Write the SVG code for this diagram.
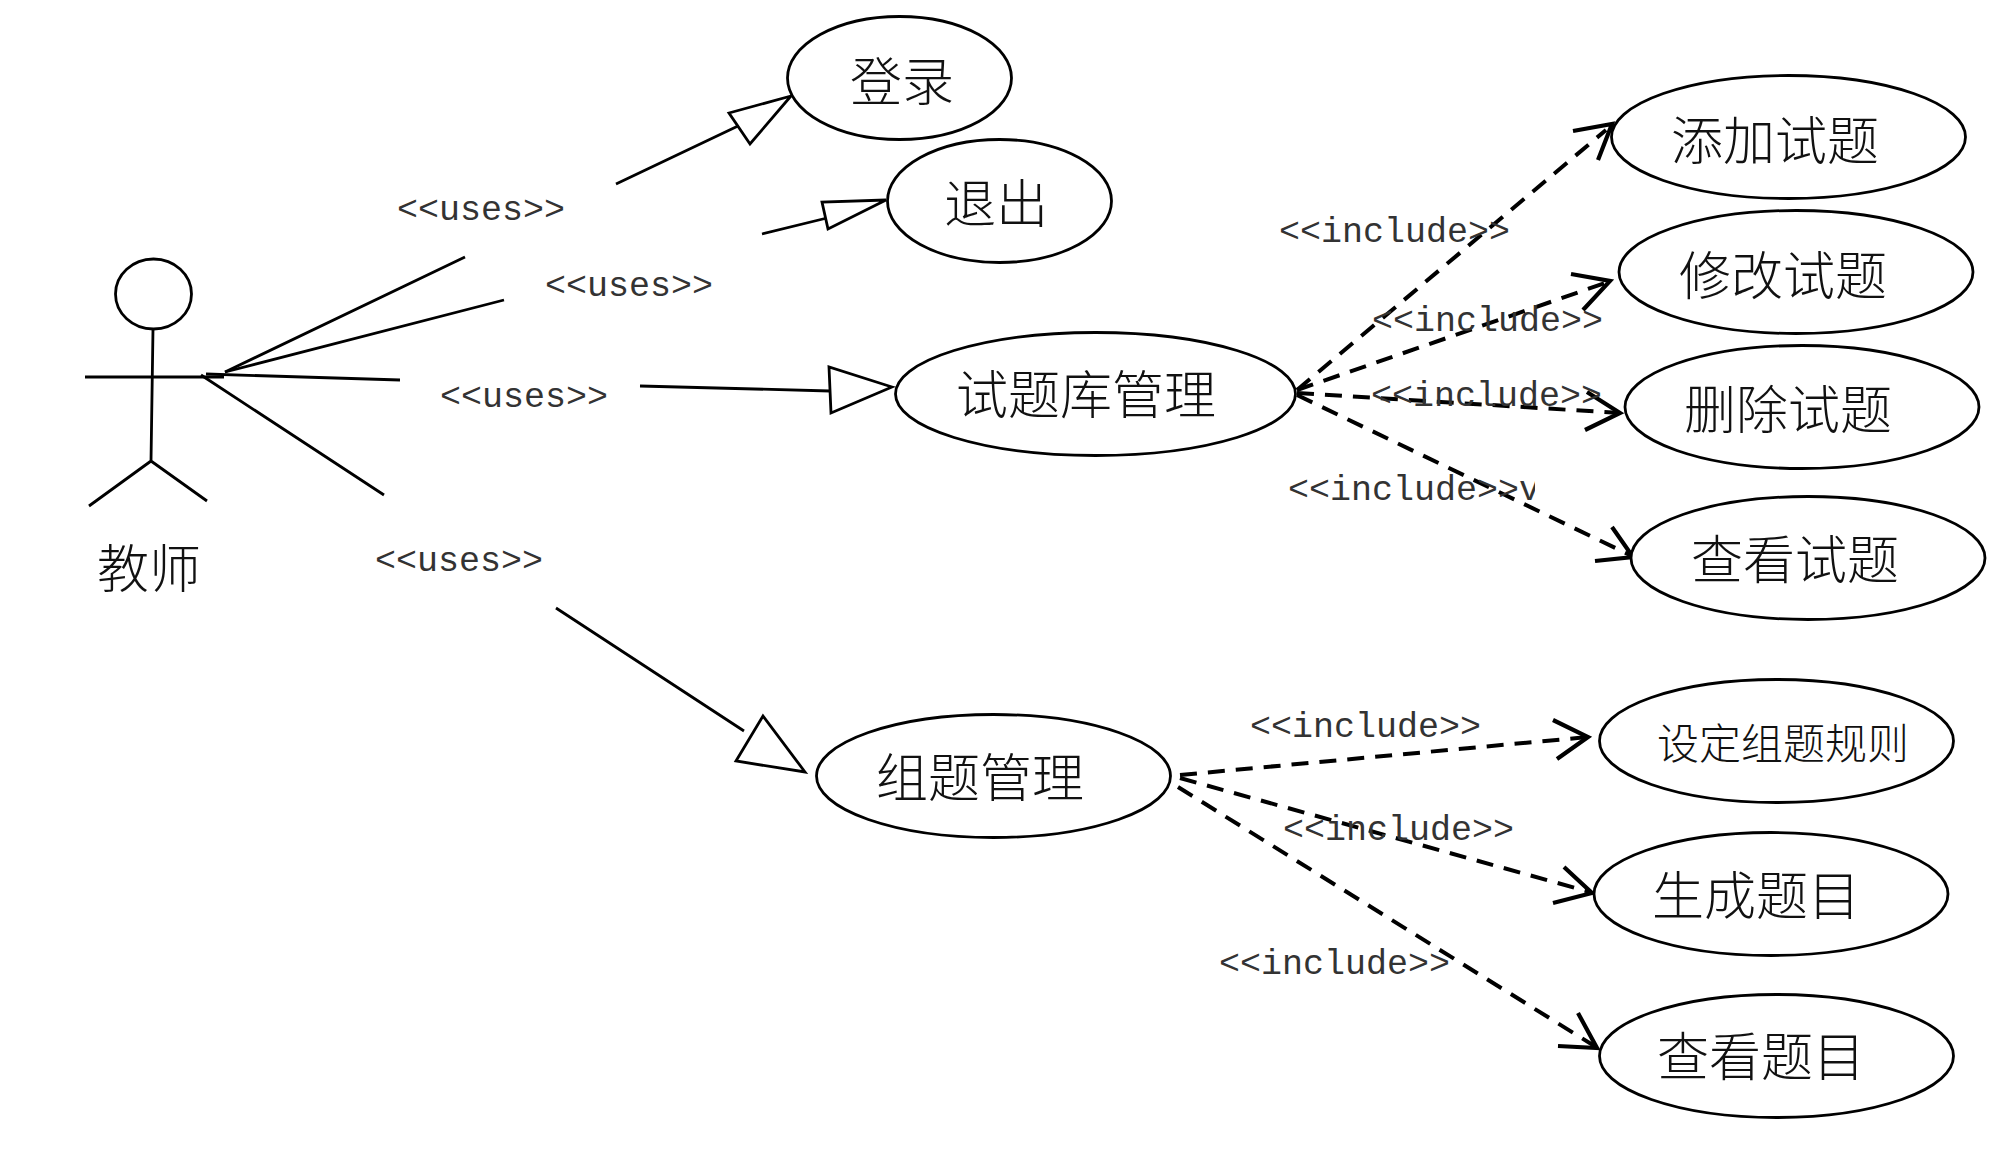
<svg xmlns="http://www.w3.org/2000/svg" width="2000" height="1155" viewBox="0 0 2000 1155">
<style>
.bg{fill:#fff}
.shape{fill:#fff;stroke:#000;stroke-width:2.8}
.actor{fill:none;stroke:#000;stroke-width:2.8}
.solid{fill:none;stroke:#000;stroke-width:2.8}
.dash{fill:none;stroke:#000;stroke-width:4;stroke-dasharray:17 11}
.barb{fill:none;stroke:#000;stroke-width:4.2}
.tri{fill:#fff;stroke:#000;stroke-width:2.8}
.cjk{font-family:"Noto Sans CJK SC","Noto Sans CJK JP",sans-serif;font-size:52px;font-weight:300;text-anchor:middle;fill:#111}
.small{font-size:42px}
.lab{font-family:"Liberation Mono",monospace;font-size:35px;fill:#333}
</style>
<defs>
<clipPath id="clipv"><rect x="1280" y="460" width="255" height="60"/></clipPath>
</defs>
<rect class="bg" width="2000" height="1155"/>
<g id="connectors">
<path class="solid" d="M225 372L465 257M616 184L738 126"/>
<polygon class="tri" points="791,96 729,113 750,144"/>
<path class="solid" d="M225 372L504 300M762 234L827 218"/>
<polygon class="tri" points="886,200 822,202 828,229"/>
<path class="solid" d="M206 374L400 380M640 386L830 391"/>
<polygon class="tri" points="892,387 829,367 831,413"/>
<path class="solid" d="M201 375L384 495M556 608L744 731"/>
<polygon class="tri" points="805,772 763,716 736,761"/>
<path class="dash" d="M1297 390L1606 130"/>
<path class="barb" d="M1573 131L1612 124L1598 160"/>
<path class="dash" d="M1297 390L1608 282"/>
<path class="barb" d="M1571 274L1610 281L1583 310"/>
<path class="dash" d="M1297 393L1620 413"/>
<path class="barb" d="M1587 392L1620 413L1585 430"/>
<path class="dash" d="M1297 395L1632 556"/>
<path class="barb" d="M1612 527L1633 557L1595 561"/>
<path class="dash" d="M1180 775L1588 737"/>
<path class="barb" d="M1553 720L1588 737L1557 759"/>
<path class="dash" d="M1180 778L1590 892"/>
<path class="barb" d="M1564 867L1592 893L1553 903"/>
<path class="dash" d="M1178 787L1596 1047"/>
<path class="barb" d="M1578 1013L1597 1048L1558 1046"/>
<text class="lab" x="397" y="220">&lt;&lt;uses&gt;&gt;</text>
<text class="lab" x="545" y="296">&lt;&lt;uses&gt;&gt;</text>
<text class="lab" x="440" y="407">&lt;&lt;uses&gt;&gt;</text>
<text class="lab" x="375" y="571">&lt;&lt;uses&gt;&gt;</text>
<text class="lab" x="1279" y="242">&lt;&lt;include&gt;&gt;</text>
<text class="lab" x="1372" y="331">&lt;&lt;include&gt;&gt;</text>
<text class="lab" x="1371" y="406">&lt;&lt;include&gt;&gt;</text>
<text class="lab" x="1288" y="500" clip-path="url(#clipv)">&lt;&lt;include&gt;&gt;v</text>
<text class="lab" x="1250" y="737">&lt;&lt;include&gt;&gt;</text>
<text class="lab" x="1283" y="840">&lt;&lt;include&gt;&gt;</text>
<text class="lab" x="1219" y="974">&lt;&lt;include&gt;&gt;</text>
</g>
<g id="actor-teacher">
<ellipse class="actor" cx="153.500" cy="294" rx="38" ry="35"/>
<path class="actor" d="M153 329L151 461M85 377H224M151 461L89 506M151 461L207 501"/>
<text class="cjk" x="149" y="588">教师</text>
</g>
<g id="uc-login"><ellipse class="shape" cx="899.500" cy="78" rx="112" ry="61.500"/><text class="cjk" x="902" y="101">登录</text></g>
<g id="uc-logout"><ellipse class="shape" cx="999.500" cy="201" rx="112" ry="61.500"/><text class="cjk" x="996" y="223">退出</text></g>
<g id="uc-bank"><ellipse class="shape" cx="1095.500" cy="394" rx="200" ry="61.500"/><text class="cjk" x="1086" y="414">试题库管理</text></g>
<g id="uc-add"><ellipse class="shape" cx="1788.500" cy="137" rx="177" ry="61.500"/><text class="cjk" x="1775" y="160">添加试题</text></g>
<g id="uc-edit"><ellipse class="shape" cx="1796" cy="272" rx="177" ry="61.500"/><text class="cjk" x="1783" y="295">修改试题</text></g>
<g id="uc-delete"><ellipse class="shape" cx="1802" cy="407" rx="177" ry="61.500"/><text class="cjk" x="1788" y="429">删除试题</text></g>
<g id="uc-view"><ellipse class="shape" cx="1808" cy="558" rx="177" ry="61.500"/><text class="cjk" x="1795" y="579">查看试题</text></g>
<g id="uc-compose"><ellipse class="shape" cx="993.500" cy="776" rx="177" ry="61.500"/><text class="cjk" x="980" y="797">组题管理</text></g>
<g id="uc-rule"><ellipse class="shape" cx="1776.500" cy="741" rx="177" ry="61.500"/><text class="cjk small" x="1783" y="759">设定组题规则</text></g>
<g id="uc-generate"><ellipse class="shape" cx="1771" cy="894" rx="177" ry="61.500"/><text class="cjk" x="1756" y="915">生成题目</text></g>
<g id="uc-viewq"><ellipse class="shape" cx="1776.500" cy="1056" rx="177" ry="61.500"/><text class="cjk" x="1761" y="1076">查看题目</text></g>
</svg>
